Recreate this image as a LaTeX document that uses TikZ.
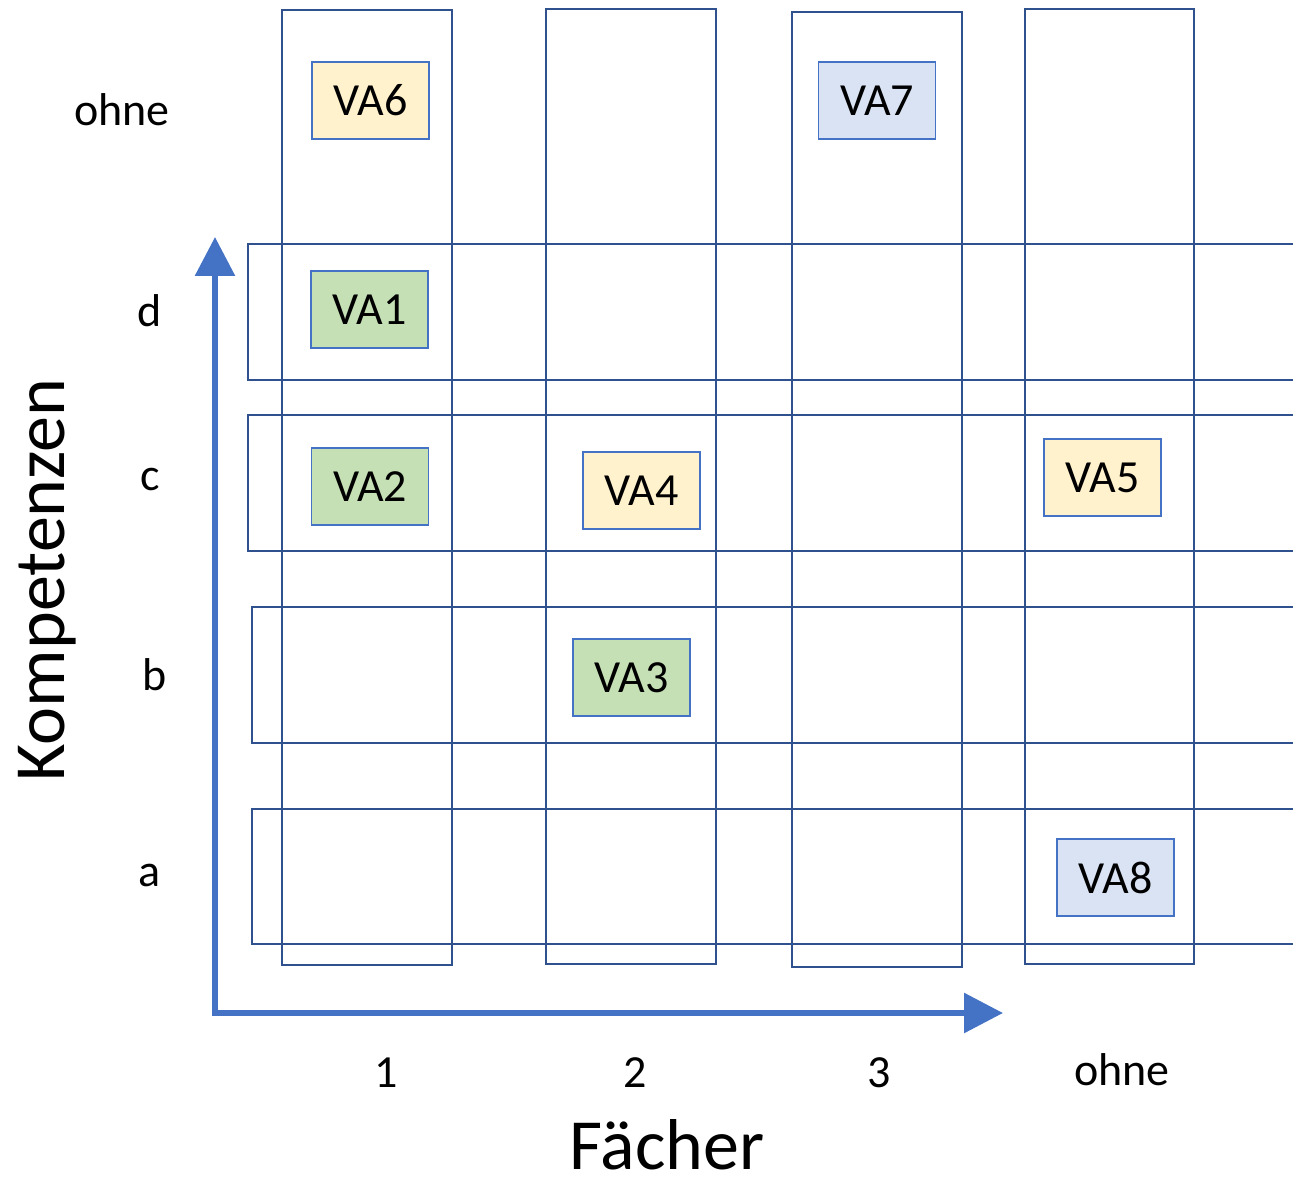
\documentclass[tikz,border=0pt]{standalone}
\usepackage{fontspec}
\setmainfont{Carlito}
\usetikzlibrary{arrows.meta}

\definecolor{gridblue}{RGB}{47,82,143}
\definecolor{axisblue}{RGB}{68,114,196}
\definecolor{vayellow}{RGB}{255,242,204}
\definecolor{vagreen}{RGB}{197,224,180}
\definecolor{vablue}{RGB}{218,227,243}

\tikzset{
  band/.style={draw=gridblue, line width=2.6pt, inner sep=0pt},
  vabox/.style={draw=axisblue, line width=1.8pt, minimum width=117pt, minimum height=77pt, inner sep=0pt, font=\fontsize{46}{55}\selectfont},
  lbl/.style={inner sep=0pt, font=\fontsize{46}{55}\selectfont},
  title/.style={inner sep=0pt, font=\fontsize{72}{86}\selectfont},
  axis/.style={draw=axisblue, line width=6pt, {Triangle[length=39pt,width=39pt]}-{Triangle[length=39pt,width=39pt]}}
}

\begin{document}
\begin{tikzpicture}[x=1pt,y=1pt,yscale=-1,xscale=1]
\useasboundingbox (0,0) rectangle (1293,1182);
\clip (0,0) rectangle (1293,1182);

%Rows (Kompetenzen)
\node[band, minimum width=1062pt, minimum height=136pt] (rowd) at (779,312) {};
\node[band, minimum width=1062pt, minimum height=136pt] (rowc) at (779,483) {};
\node[band, minimum width=1058pt, minimum height=136pt] (rowb) at (781,675) {};
\node[band, minimum width=1058pt, minimum height=135pt] (rowa) at (781,876.5) {};

%Columns (Faecher)
\node[band, minimum width=170pt, minimum height=955pt] (col1) at (367,487.5) {};
\node[band, minimum width=170pt, minimum height=955pt] (col2) at (631,486.5) {};
\node[band, minimum width=170pt, minimum height=955pt] (col3) at (877,489.5) {};
\node[band, minimum width=169pt, minimum height=955pt] (col4) at (1109.5,486.5) {};

%Axes
\coordinate (orig) at (215,1013);
\coordinate (ytip) at (215,237);
\coordinate (xtip) at (1003,1013);
\draw[axis] (ytip) -- (orig) -- (xtip);

%VA boxes
\node[vabox, fill=vayellow] (va6) at (370.5,100.5) {VA6};
\node[vabox, fill=vablue] (va7) at (877,100.5) {VA7};
\node[vabox, fill=vagreen] (va1) at (369.5,309.5) {VA1};
\node[vabox, fill=vagreen] (va2) at (370,486.5) {VA2};
\node[vabox, fill=vayellow] (va4) at (641.5,490.5) {VA4};
\node[vabox, fill=vayellow] (va5) at (1102.5,477.5) {VA5};
\node[vabox, fill=vagreen] (va3) at (631.5,677.5) {VA3};
\node[vabox, fill=vablue] (va8) at (1115.5,877.5) {VA8};

% Text Node
\node[lbl] (kohne) at (122,110) {ohne};
\node[lbl] (kd) at (150,311) {d};
\node[lbl] (kc) at (150,480) {c};
\node[lbl] (kb) at (155,675) {b};
\node[lbl] (ka) at (150,875) {a};

% Text Node
\node[lbl] (f1) at (386,1073) {1};
\node[lbl] (f2) at (635,1073) {2};
\node[lbl] (f3) at (879,1073) {3};
\node[lbl] (fohne) at (1122,1070) {ohne};

% Text Node
\node[title] (faecher) at (667,1145) {Fächer};
\node[title, rotate=90, anchor=base] (kompetenzen) at (64,580) {Kompetenzen};

\end{tikzpicture}
\end{document}
